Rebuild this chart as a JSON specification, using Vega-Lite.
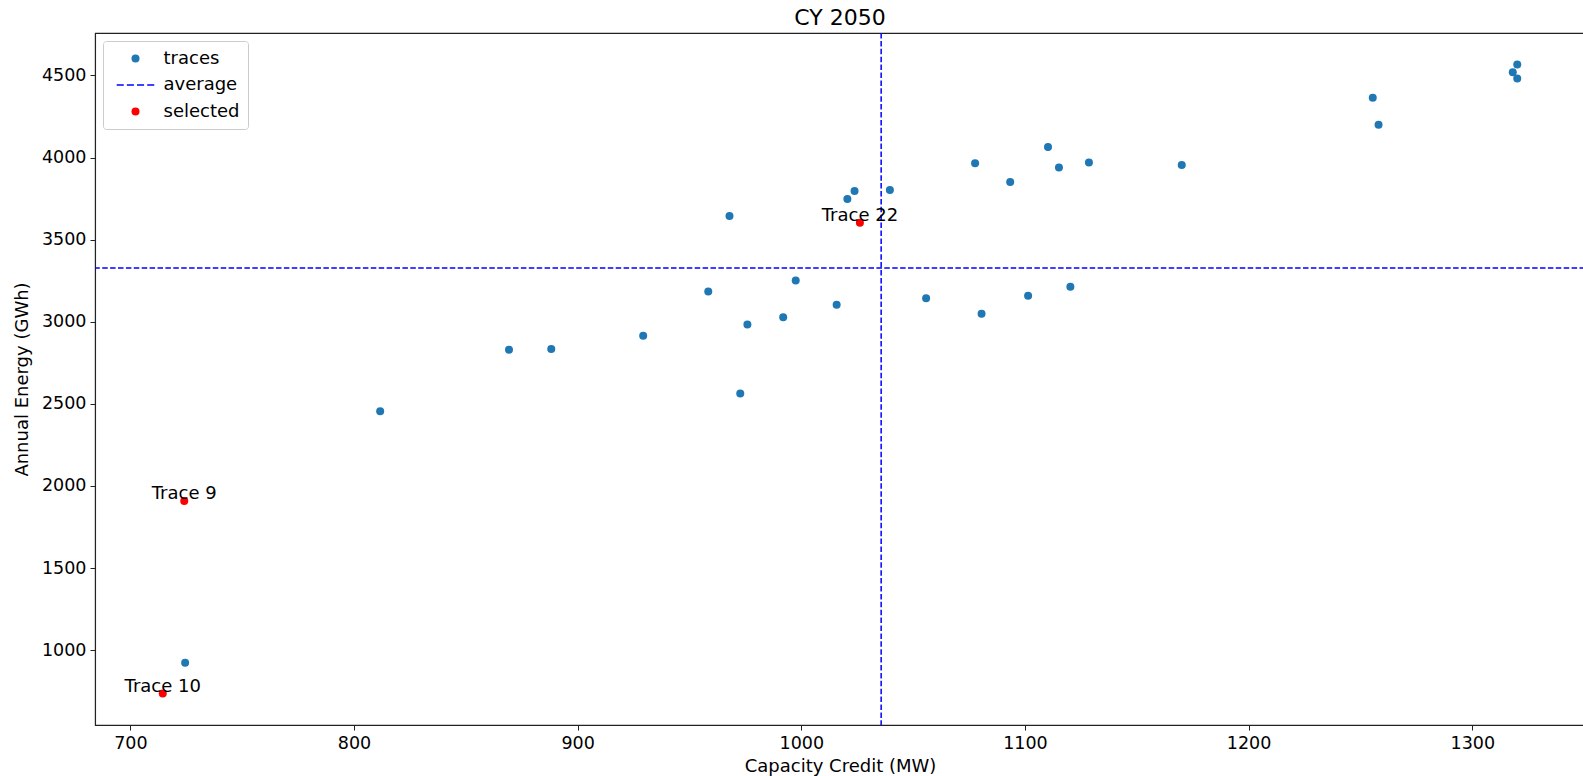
{
  "$schema": "https://vega.github.io/schema/vega-lite/v6.json",
  "autosize": {"type": "none"},
  "width": 1490,
  "height": 692,
  "padding": {"left": 95, "top": 33, "right": 0, "bottom": 51},
  "background": "white",
  "config": {
    "font": "DejaVu Sans",
    "view": {"stroke": "#222222", "strokeWidth": 1.1},
    "axis": {
      "grid": false,
      "domainColor": "#222222",
      "domainWidth": 1.1,
      "tickColor": "#222222",
      "tickSize": 5,
      "tickWidth": 1,
      "labelColor": "black",
      "labelFontSize": 17.5,
      "labelPadding": 4,
      "titleColor": "black",
      "titleFontSize": 18,
      "titleFontWeight": "normal"
    }
  },
  "title": {"text": "CY 2050", "fontSize": 22, "fontWeight": "normal", "color": "black", "anchor": "middle", "offset": 2},
  "datasets": {
    "points": [
      {"cc": 724.5, "energy": 923, "series": "traces"},
      {"cc": 811.7, "energy": 2455, "series": "traces"},
      {"cc": 972.7, "energy": 2564, "series": "traces"},
      {"cc": 869.3, "energy": 2830, "series": "traces"},
      {"cc": 888.2, "energy": 2835, "series": "traces"},
      {"cc": 929.3, "energy": 2915, "series": "traces"},
      {"cc": 958.4, "energy": 3185, "series": "traces"},
      {"cc": 967.9, "energy": 3644, "series": "traces"},
      {"cc": 975.9, "energy": 2984, "series": "traces"},
      {"cc": 991.9, "energy": 3027, "series": "traces"},
      {"cc": 997.5, "energy": 3252, "series": "traces"},
      {"cc": 1015.8, "energy": 3104, "series": "traces"},
      {"cc": 1020.6, "energy": 3747, "series": "traces"},
      {"cc": 1023.8, "energy": 3796, "series": "traces"},
      {"cc": 1039.6, "energy": 3802, "series": "traces"},
      {"cc": 1055.8, "energy": 3143, "series": "traces"},
      {"cc": 1077.7, "energy": 3966, "series": "traces"},
      {"cc": 1080.6, "energy": 3049, "series": "traces"},
      {"cc": 1093.4, "energy": 3851, "series": "traces"},
      {"cc": 1101.4, "energy": 3159, "series": "traces"},
      {"cc": 1110.3, "energy": 4064, "series": "traces"},
      {"cc": 1115.2, "energy": 3940, "series": "traces"},
      {"cc": 1120.3, "energy": 3214, "series": "traces"},
      {"cc": 1128.6, "energy": 3970, "series": "traces"},
      {"cc": 1170.1, "energy": 3954, "series": "traces"},
      {"cc": 1255.5, "energy": 4364, "series": "traces"},
      {"cc": 1258.1, "energy": 4200, "series": "traces"},
      {"cc": 1318.1, "energy": 4520, "series": "traces"},
      {"cc": 1320.1, "energy": 4567, "series": "traces"},
      {"cc": 1320.1, "energy": 4482, "series": "traces"},
      {"cc": 724.1, "energy": 1909, "series": "selected", "label": "Trace 9"},
      {"cc": 714.5, "energy": 736, "series": "selected", "label": "Trace 10"},
      {"cc": 1026.2, "energy": 3603, "series": "selected", "label": "Trace 22"}
    ],
    "avg": [
      {"avg_cc": 1035.7, "avg_energy": 3327}
    ]
  },
  "layer": [
    {
      "data": {"name": "avg"},
      "mark": {"type": "rule", "color": "blue", "strokeWidth": 1.5, "strokeDash": [5.5, 2.4]},
      "encoding": {
        "x": {"field": "avg_cc", "type": "quantitative", "scale": {"domain": [684.2, 1350.4], "nice": false, "zero": false}}
      }
    },
    {
      "data": {"name": "avg"},
      "mark": {"type": "rule", "color": "blue", "strokeWidth": 1.5, "strokeDash": [5.5, 2.4]},
      "encoding": {
        "y": {"field": "avg_energy", "type": "quantitative", "scale": {"domain": [544.5, 4758.6], "nice": false, "zero": false}}
      }
    },
    {
      "data": {"name": "points"},
      "mark": {"type": "point", "filled": true, "opacity": 1, "size": 64},
      "encoding": {
        "x": {
          "field": "cc", "type": "quantitative",
          "scale": {"domain": [684.2, 1350.4], "nice": false, "zero": false},
          "axis": {"title": "Capacity Credit (MW)", "format": "d", "values": [700, 800, 900, 1000, 1100, 1200, 1300], "titlePadding": 6}
        },
        "y": {
          "field": "energy", "type": "quantitative",
          "scale": {"domain": [544.5, 4758.6], "nice": false, "zero": false},
          "axis": {"title": "Annual Energy (GWh)", "format": "d", "values": [1000, 1500, 2000, 2500, 3000, 3500, 4000, 4500], "titlePadding": 10}
        },
        "color": {
          "field": "series", "type": "nominal",
          "scale": {"domain": ["traces", "average", "selected"], "range": ["#1f77b4", "blue", "red"]},
          "legend": {
            "title": null,
            "orient": "top-left",
            "offset": 8,
            "padding": 8.5,
            "fillColor": "white",
            "strokeColor": "#cccccc",
            "cornerRadius": 3,
            "labelFontSize": 18,
            "labelColor": "black",
            "labelOffset": 19,
            "rowPadding": 8.5,
            "symbolSize": 64,
            "symbolOffset": 15,
            "symbolOpacity": 1,
            "encode": {
              "symbols": {
                "update": {
                  "stroke": {"scale": "color", "field": "value"},
                  "strokeWidth": {"signal": "datum.value === 'average' ? 1.5 : 0"}
                }
              }
            }
          }
        },
        "shape": {
          "field": "series", "type": "nominal",
          "scale": {"domain": ["traces", "average", "selected"], "range": ["circle", "M-4.7,0H-2.93M-2.16,0H-0.39M0.38,0H2.15M2.92,0H4.69", "circle"]},
          "legend": {
            "title": null,
            "orient": "top-left",
            "offset": 8,
            "padding": 8.5,
            "fillColor": "white",
            "strokeColor": "#cccccc",
            "cornerRadius": 3,
            "labelFontSize": 18,
            "labelColor": "black",
            "labelOffset": 19,
            "rowPadding": 8.5,
            "symbolSize": 64,
            "symbolOffset": 15,
            "symbolOpacity": 1,
            "encode": {
              "symbols": {
                "update": {
                  "stroke": {"scale": "color", "field": "value"},
                  "strokeWidth": {"signal": "datum.value === 'average' ? 1.5 : 0"}
                }
              }
            }
          }
        }
      }
    },
    {
      "data": {"name": "points"},
      "transform": [{"filter": "isValid(datum.label)"}],
      "mark": {"type": "text", "align": "center", "baseline": "alphabetic", "fontSize": 18, "color": "black", "dy": -1.5},
      "encoding": {
        "x": {"field": "cc", "type": "quantitative"},
        "y": {"field": "energy", "type": "quantitative"},
        "text": {"field": "label"}
      }
    }
  ]
}
